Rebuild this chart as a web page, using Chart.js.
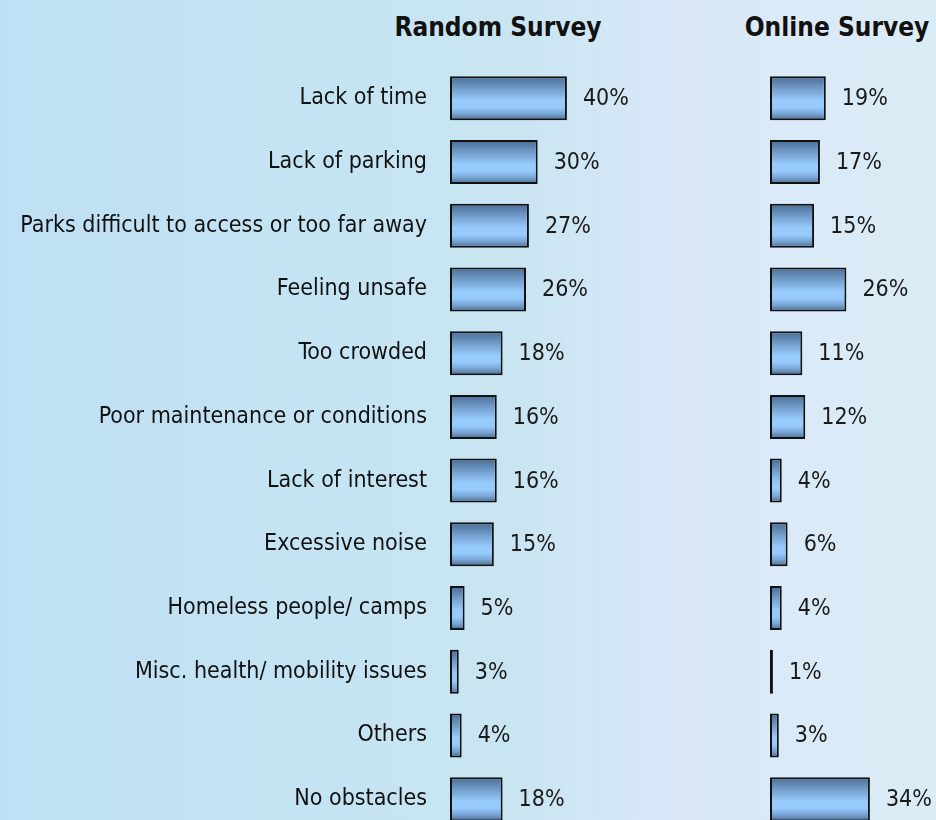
<!DOCTYPE html>
<html>
<head>
<meta charset="utf-8">
<script src="https://cdn.jsdelivr.net/npm/chart.js@4.4.1/dist/chart.umd.min.js"></script>
<style>
  html, body { margin: 0; padding: 0; width: 936px; height: 820px; overflow: hidden; }
  body {
    position: relative;
    background: linear-gradient(to right, #bfdff4 0%, #c5e4f3 35%, #c9e5f1 55%, #dae8f8 72%, #daecf6 100%);
    font-family: "DejaVu Sans Condensed", "DejaVu Sans", sans-serif;
  }
  .title {
    position: absolute; top: 12px; font-weight: bold; font-size: 26px; color: #111;
    white-space: nowrap; transform: translateX(-50%); line-height: 30px;
  }
  #wrapA { position: absolute; left: 0; top: 0; width: 640px; height: 860px; }
  #wrapB { position: absolute; left: 640px; top: 0; width: 296px; height: 860px; }
</style>
</head>
<body>
<div class="title" style="left:498px">Random Survey</div>
<div class="title" style="left:837px">Online Survey</div>
<div id="wrapA"><canvas id="chartRandom"></canvas></div>
<div id="wrapB"><canvas id="chartOnline"></canvas></div>
<script>
// Reported obstacles to park use, share of respondents (%)
const categories = [
  'Lack of time',
  'Lack of parking',
  'Parks difficult to access or too far away',
  'Feeling unsafe',
  'Too crowded',
  'Poor maintenance or conditions',
  'Lack of interest',
  'Excessive noise',
  'Homeless people/ camps',
  'Misc. health/ mobility issues',
  'Others',
  'No obstacles'
];
const randomSurvey = [40, 30, 27, 26, 18, 16, 16, 15, 5, 3, 4, 18];
const onlineSurvey = [19, 17, 15, 26, 11, 12, 4, 6, 4, 1, 3, 34];

const FONT = '"DejaVu Sans Condensed", "DejaVu Sans", sans-serif';
const BAR_FRACTION = 0.69;

// Vertical steel-blue gradient for each bar: dark edges, light band a little below the middle
function barGradient(ctx) {
  const chart = ctx.chart;
  const y = chart.scales && chart.scales.y;
  if (!y || ctx.dataIndex === undefined) return '#99ccff';
  const band = y.height / categories.length;
  const c = y.getPixelForValue(ctx.dataIndex);
  const h = band * BAR_FRACTION;
  if (!isFinite(c) || !isFinite(h) || h <= 0) return '#99ccff';
  const g = chart.ctx.createLinearGradient(0, c - h / 2, 0, c + h / 2);
  g.addColorStop(0, '#4a6a8f');
  g.addColorStop(0.25, '#6d98c6');
  g.addColorStop(0.55, '#98cbfd');
  g.addColorStop(0.7, '#98cbfd');
  g.addColorStop(0.85, '#79a6d5');
  g.addColorStop(1, '#4a6a8f');
  return g;
}

// Percentage printed just past the end of every bar
const valueLabels = {
  id: 'valueLabels',
  afterDatasetsDraw(chart) {
    const ctx = chart.ctx;
    const ds = chart.data.datasets[0];
    const meta = chart.getDatasetMeta(0);
    ctx.save();
    ctx.font = '23px ' + FONT;
    ctx.fillStyle = '#1a1a1a';
    ctx.textAlign = 'left';
    ctx.textBaseline = 'middle';
    meta.data.forEach((bar, i) => {
      ctx.fillText(ds.data[i] + '%', bar.x + 16, bar.y + 1);
    });
    ctx.restore();
  }
};

function makeChart(canvasId, values, showLabels, xMax, leftPad) {
  return new Chart(document.getElementById(canvasId), {
    type: 'bar',
    data: {
      labels: categories,
      datasets: [{
        data: values,
        backgroundColor: barGradient,
        borderColor: '#121212',
        borderWidth: 2,
        borderSkipped: false,
        barPercentage: BAR_FRACTION,
        categoryPercentage: 1
      }]
    },
    options: {
      indexAxis: 'y',
      responsive: true,
      maintainAspectRatio: false,
      animation: false,
      layout: { padding: { top: 66.5, bottom: 29, left: leftPad, right: 0 } },
      plugins: { legend: { display: false }, tooltip: { enabled: false }, title: { display: false } },
      scales: {
        x: { display: false, min: 0, max: xMax },
        y: {
          display: showLabels,
          grid: { display: false, drawTicks: false },
          border: { display: false },
          ticks: { color: '#111', padding: 23, font: { family: FONT, size: 23 } },
          afterFit(scale) {
            if (showLabels) {
              scale.width = 450;
              scale.paddingTop = 0;
              scale.paddingBottom = 0;
            }
          }
        }
      }
    },
    plugins: [valueLabels]
  });
}

makeChart('chartRandom', randomSurvey, true, 65, 0);
makeChart('chartOnline', onlineSurvey, false, 56.5, 130);
</script>
</body>
</html>
